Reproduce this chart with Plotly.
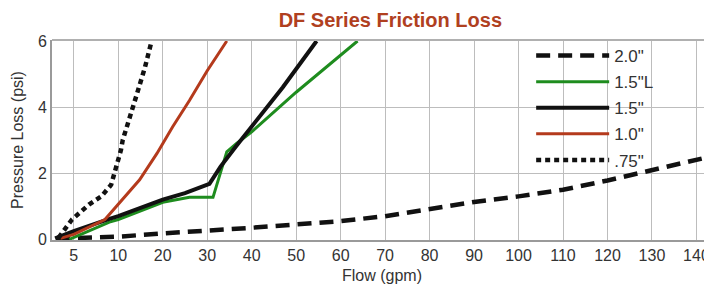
import numpy as np
import plotly.graph_objects as go

# Tick labels of the (non-uniform) flow axis
tick_flows = [5, 10, 20, 30, 40, 50, 60, 70, 80, 90, 100, 110, 120, 130, 140]
tick_labels = [str(t) for t in tick_flows]

# Series data (flow gpm, pressure loss psi)
flow_20 = [3, 10, 20, 30, 40, 50, 60, 70, 80, 90, 100, 110, 120, 130, 140, 143]
psi_20 = [0.02, 0.08, 0.18, 0.25, 0.35, 0.45, 0.55, 0.7, 0.93, 1.13, 1.3, 1.5, 1.78, 2.08, 2.4, 2.5]

flow_15L = [4.5, 9, 10, 20, 26, 31.3, 34.4, 36.6, 40, 50, 63.8]
psi_15L = [0.0, 0.52, 0.6, 1.12, 1.27, 1.27, 2.65, 2.9, 3.25, 4.45, 6.0]

flow_15 = [2.9, 5, 9, 10, 20, 25, 30.5, 33, 36.4, 40, 47, 54.6]
psi_15 = [0.03, 0.25, 0.62, 0.7, 1.2, 1.4, 1.68, 2.2, 2.8, 3.4, 4.6, 6.0]

flow_10 = [3.5, 5, 8.5, 11, 14.8, 18.7, 22.2, 26, 30, 34.4]
psi_10 = [0.03, 0.15, 0.6, 1.2, 1.8, 2.6, 3.4, 4.2, 5.1, 6.0]

flow_075 = [3.3, 4.8, 6.7, 8.1, 9.2, 9.7, 10.6, 11, 12.5, 14.2, 16, 17.5]
psi_075 = [0.05, 0.6, 1.05, 1.3, 1.65, 2.1, 2.7, 3.0, 3.7, 4.4, 5.2, 6.0]


def to_pos(flows):
    """Map flow values onto the chart's non-uniform axis (5->0, 10->1, 20->2, ...)."""
    f = np.asarray(flows, dtype=float)
    return np.where(f < 10, (f - 5) / 5.0, f / 10.0)


tick_pos = to_pos(tick_flows)

series = [
    ('2.0"', flow_20, psi_20, '#111111', 4.5, '14px,8px'),
    ('1.5"L', flow_15L, psi_15L, '#1e8c1e', 3, 'solid'),
    ('1.5"', flow_15, psi_15, '#111111', 4, 'solid'),
    ('1.0"', flow_10, psi_10, '#b43a1c', 3, 'solid'),
    ('.75"', flow_075, psi_075, '#111111', 4.5, '5px,4px'),
]

fig = go.Figure()
for i, (name, fx, fy, color, w, dash) in enumerate(series):
    fig.add_trace(go.Scatter(
        x=to_pos(fx), y=fy, mode='lines', name=name,
        legendgroup=f'g{i}',
        line=dict(color=color, width=w, dash=dash),
    ))

font_family = 'Liberation Sans, Arial, sans-serif'

fig.update_layout(
    width=712, height=293,
    margin=dict(l=44, r=8, t=32, b=61),
    paper_bgcolor='white', plot_bgcolor='white',
    font=dict(family=font_family, size=16, color='#333333'),
    title=dict(text='<b>DF Series Friction Loss</b>', x=0.537, xanchor='center',
               y=0.96, yanchor='middle',
               font=dict(size=20, color='#b0401f', family=font_family)),
    showlegend=True,
    legend=dict(x=0.726, y=1.01, xanchor='left', yanchor='top',
                bgcolor='rgba(0,0,0,0)', itemwidth=73, tracegroupgap=1,
                traceorder='grouped',
                font=dict(size=17, color='#333333', family=font_family)),
    xaxis=dict(
        range=[-0.49, 14.35], tickmode='array', tickvals=tick_pos, ticktext=tick_labels,
        showgrid=True, gridcolor='#bdbdbd', gridwidth=1,
        showline=True, linecolor='#9a9a9a', linewidth=2, mirror=False,
        zeroline=False, ticks='', ticklen=0,
        title=dict(text='Flow (gpm)', standoff=7, font=dict(size=16, color='#333333')),
        tickfont=dict(size=16, color='#333333'),
    ),
    yaxis=dict(
        range=[-0.02, 6.03], tickvals=[0, 2, 4, 6],
        showgrid=True, gridcolor='#bdbdbd', gridwidth=1,
        showline=True, linecolor='#9a9a9a', linewidth=2,
        zeroline=False, ticks='', ticklen=0,
        title=dict(text='Pressure Loss (psi)', standoff=10, font=dict(size=16, color='#333333')),
        tickfont=dict(size=16, color='#333333'),
    ),
)

# top border of plot area
fig.add_shape(type='line', xref='paper', yref='paper', x0=0, x1=1, y0=1, y1=1,
              line=dict(color='#b0b0b0', width=2))

fig.write_html('out.html')
